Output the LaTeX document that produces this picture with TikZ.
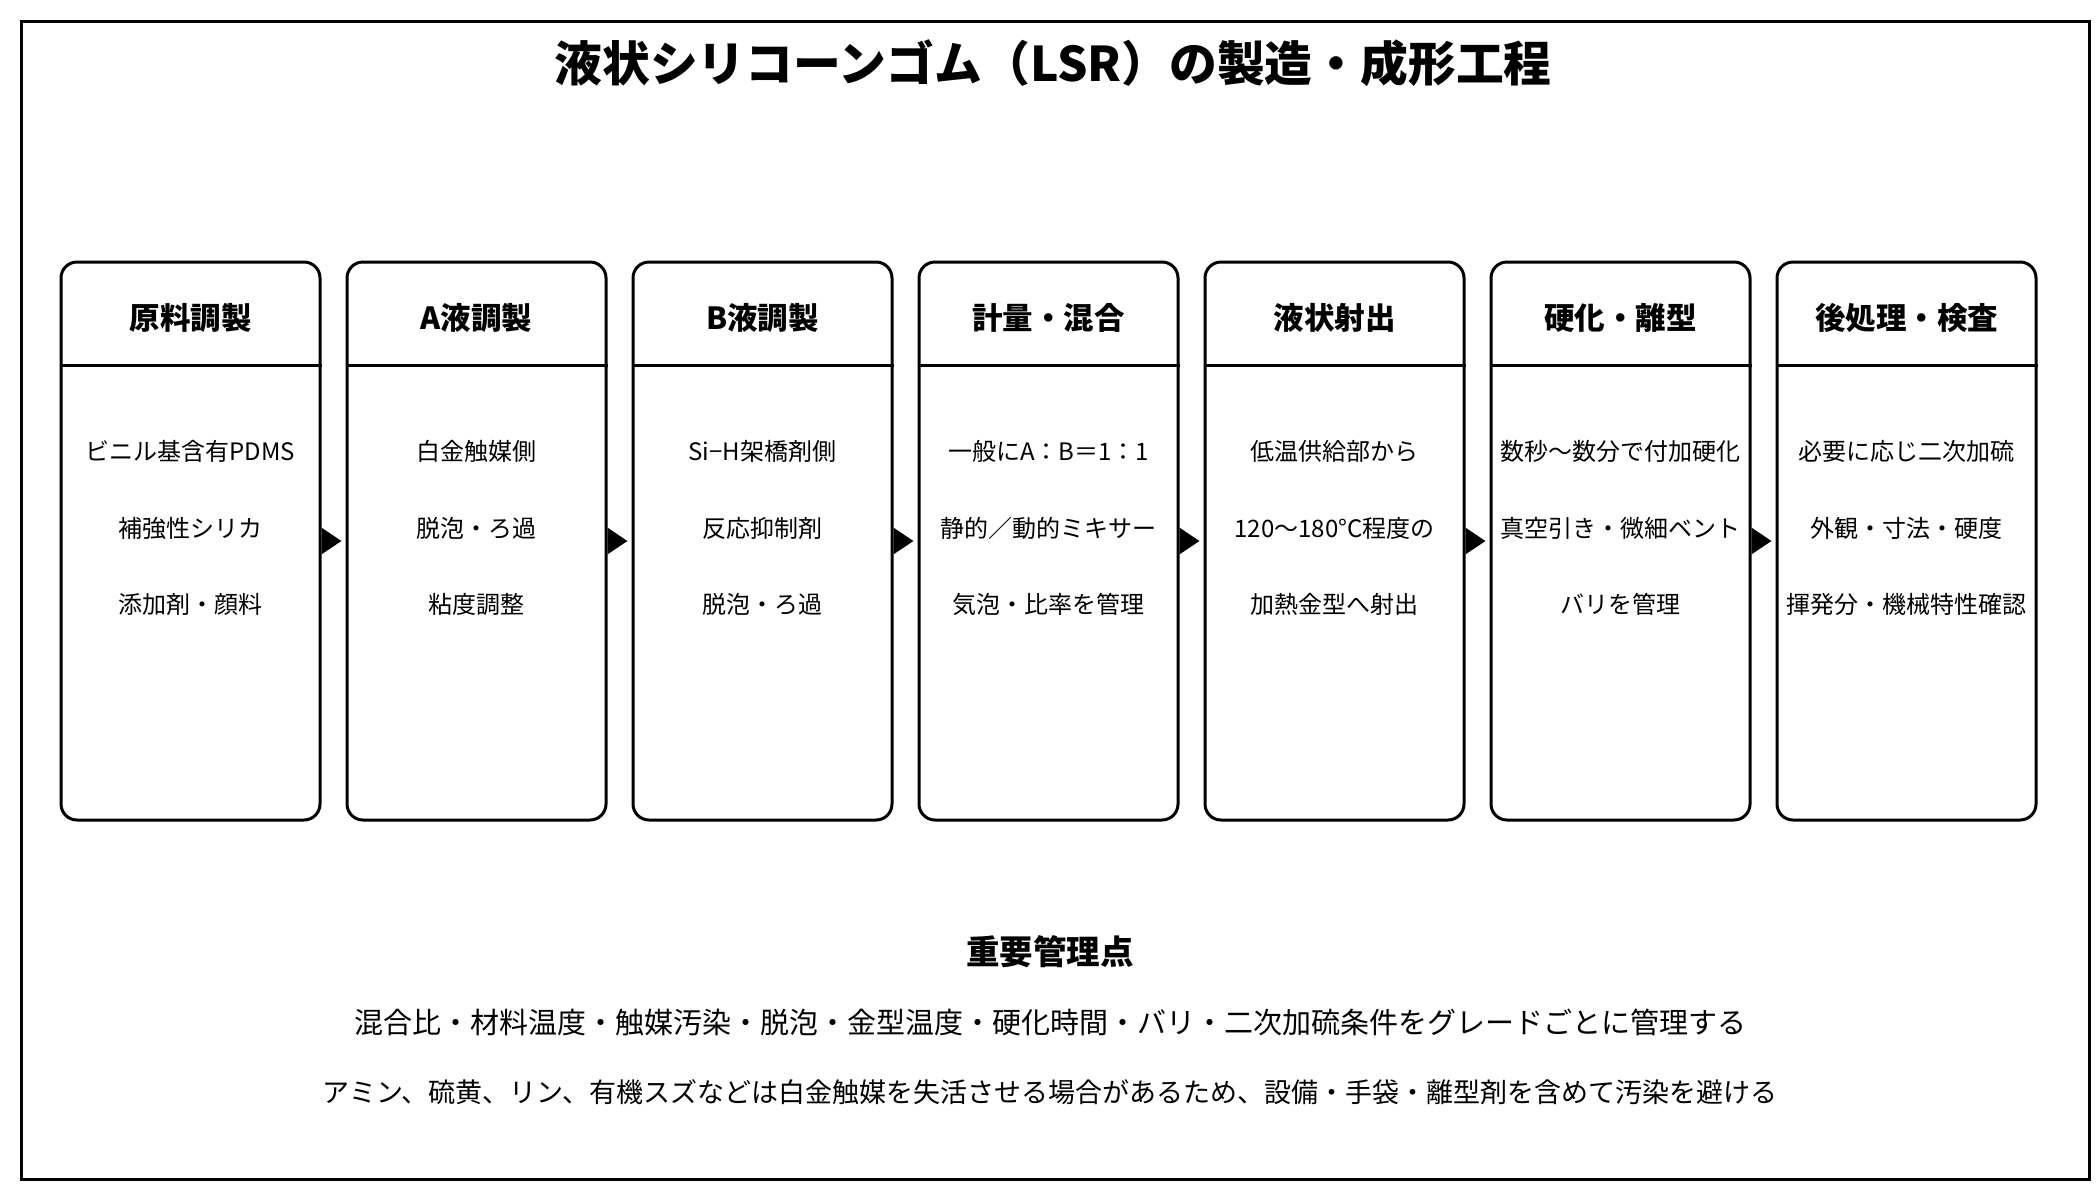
\documentclass[tikz,border=0pt]{standalone}
\usepackage{fontspec}
\setmainfont{Noto Sans CJK JP}
\usetikzlibrary{arrows.meta}

\begin{document}
\begin{tikzpicture}[x=1pt,y=-1pt,
    stage/.style={draw, line width=3pt, rounded corners=16pt, minimum width=259pt, minimum height=558pt, inner sep=0pt},
    head/.style={inner sep=0pt, font=\fontsize{30.5}{36}\selectfont\bfseries},
    divider/.style={line width=3pt},
    body/.style={align=center, font=\fontsize{24}{76.5}\selectfont},
    flow/.style={line width=3pt, shorten >=4pt, -{Triangle[length=20pt,width=26pt]}}]
    \useasboundingbox (0,0) rectangle (2100,1200);
    \draw[line width=3pt] (21,21) rectangle (2089,1179);
    \node[font=\fontsize{47.8}{56}\selectfont\bfseries] (title) at (1053,63) {液状シリコーンゴム（LSR）の製造・成形工程};

    % stages
    \node[stage] (s1) at (190.5,541) {};
    \node[head] (h1) at (190.5,318) {原料調製};
    \draw[divider] (s1.west |- 0,365) -- (s1.east |- 0,365);
    \node[body] (b1) at (190.5,528) {ビニル基含有PDMS\\補強性シリカ\\添加剤・顔料};

    \node[stage] (s2) at (476.5,541) {};
    \node[head] (h2) at (476.5,318) {A液調製};
    \draw[divider] (s2.west |- 0,365) -- (s2.east |- 0,365);
    \node[body] (b2) at (476.5,528) {白金触媒側\\脱泡・ろ過\\粘度調整};

    \node[stage] (s3) at (762.5,541) {};
    \node[head] (h3) at (762.5,318) {B液調製};
    \draw[divider] (s3.west |- 0,365) -- (s3.east |- 0,365);
    \node[body] (b3) at (762.5,528) {Si−H架橋剤側\\反応抑制剤\\脱泡・ろ過};

    \node[stage] (s4) at (1048.5,541) {};
    \node[head] (h4) at (1048.5,318) {計量・混合};
    \draw[divider] (s4.west |- 0,365) -- (s4.east |- 0,365);
    \node[body] (b4) at (1048.5,528) {一般にA：B＝1：1\\静的／動的ミキサー\\気泡・比率を管理};

    \node[stage] (s5) at (1334.5,541) {};
    \node[head] (h5) at (1334.5,318) {液状射出};
    \draw[divider] (s5.west |- 0,365) -- (s5.east |- 0,365);
    \node[body] (b5) at (1334.5,528) {低温供給部から\\120〜180°C程度の\\加熱金型へ射出};

    \node[stage] (s6) at (1620.5,541) {};
    \node[head] (h6) at (1620.5,318) {硬化・離型};
    \draw[divider] (s6.west |- 0,365) -- (s6.east |- 0,365);
    \node[body] (b6) at (1620.5,528) {数秒〜数分で付加硬化\\真空引き・微細ベント\\バリを管理};

    \node[stage] (s7) at (1906.5,541) {};
    \node[head] (h7) at (1906.5,318) {後処理・検査};
    \draw[divider] (s7.west |- 0,365) -- (s7.east |- 0,365);
    \node[body] (b7) at (1906.5,528) {必要に応じ二次加硫\\外観・寸法・硬度\\揮発分・機械特性確認};

    % flow arrows
    \draw[flow] (s1.east) -- (s2.west);
    \draw[flow] (s2.east) -- (s3.west);
    \draw[flow] (s3.east) -- (s4.west);
    \draw[flow] (s4.east) -- (s5.west);
    \draw[flow] (s5.east) -- (s6.west);
    \draw[flow] (s6.east) -- (s7.west);

    % key points
    \node[font=\fontsize{33.5}{40}\selectfont\bfseries] (keyhead) at (1050,952) {重要管理点};
    \node[font=\fontsize{29}{35}\selectfont] (key1) at (1050,1022) {混合比・材料温度・触媒汚染・脱泡・金型温度・硬化時間・バリ・二次加硫条件をグレードごとに管理する};
    \node[font=\fontsize{27}{33}\selectfont] (key2) at (1050,1092) {アミン、硫黄、リン、有機スズなどは白金触媒を失活させる場合があるため、設備・手袋・離型剤を含めて汚染を避ける};
\end{tikzpicture}
\end{document}
